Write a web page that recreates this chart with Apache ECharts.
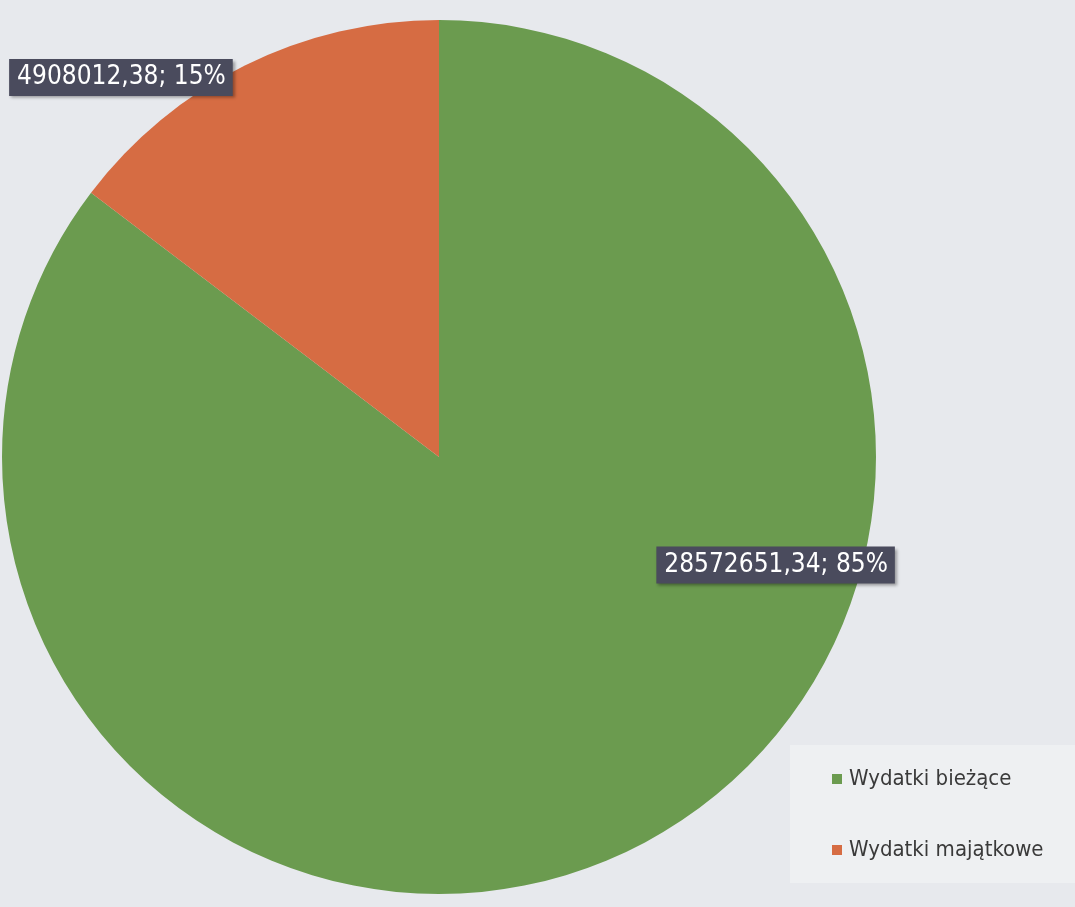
<!DOCTYPE html>
<html>
<head>
<meta charset="utf-8">
<script src="https://cdn.jsdelivr.net/npm/echarts@6/dist/echarts.min.js"></script>
<style>
  html, body { margin: 0; padding: 0; background: #e7e9ed; }
  #chart { width: 1075px; height: 907px; }
</style>
</head>
<body>
<div id="chart"></div>
<script>
"use strict";

const NAMES = ["Wydatki bieżące", "Wydatki majątkowe"];
const VALUES = [28572651.34, 4908012.38];
const COLORS = ["#6b9b4f", "#d66c43"];

// 28572651.34 → "28572651,34"
function fmtPl(v) {
  return v.toFixed(2).replace(".", ",");
}

// label spots (fraction of chart size), per slice
const LABEL_AT = [[0.7215, 0.623], [0.1125, 0.0855]];

const chart = echarts.init(document.getElementById("chart"));
chart.setOption({
  backgroundColor: "#e7e9ed",
  legend: {
    orient: "vertical",
    left: 790,
    top: 745,
    padding: [23, 40, 22, 42],
    itemGap: 49,
    itemWidth: 10,
    itemHeight: 10,
    icon: "rect",
    backgroundColor: "#eef0f2",
    textStyle: { fontFamily: "DejaVu Sans Condensed", fontSize: 22, color: "#3a3a3a", padding: [0, 0, 0, 2] },
    data: NAMES,
  },
  series: [{
    type: "pie",
    center: [439, 457],
    radius: 437,
    startAngle: 90,
    clockwise: true,
    silent: true,
    data: NAMES.map((n, i) => ({ name: n, value: VALUES[i], itemStyle: { color: COLORS[i] } })),
    label: {
      show: true,
      position: "inside",
      formatter: p => fmtPl(p.value) + "; " + Math.round(p.percent) + "%",
      fontFamily: "DejaVu Sans Condensed",
      fontSize: 26,
      color: "#ffffff",
      backgroundColor: "#4a4b5d",
      padding: [6, 7, 5, 8],
      shadowColor: "rgba(0,0,0,0.35)",
      shadowBlur: 3,
      shadowOffsetX: 2,
      shadowOffsetY: 2,
    },
    labelLine: { show: false },
    labelLayout: p => ({
      x: LABEL_AT[p.dataIndex][0] * chart.getWidth(),
      y: LABEL_AT[p.dataIndex][1] * chart.getHeight(),
      align: "center",
      verticalAlign: "middle",
    }),
  }],
});
</script>
</body>
</html>
